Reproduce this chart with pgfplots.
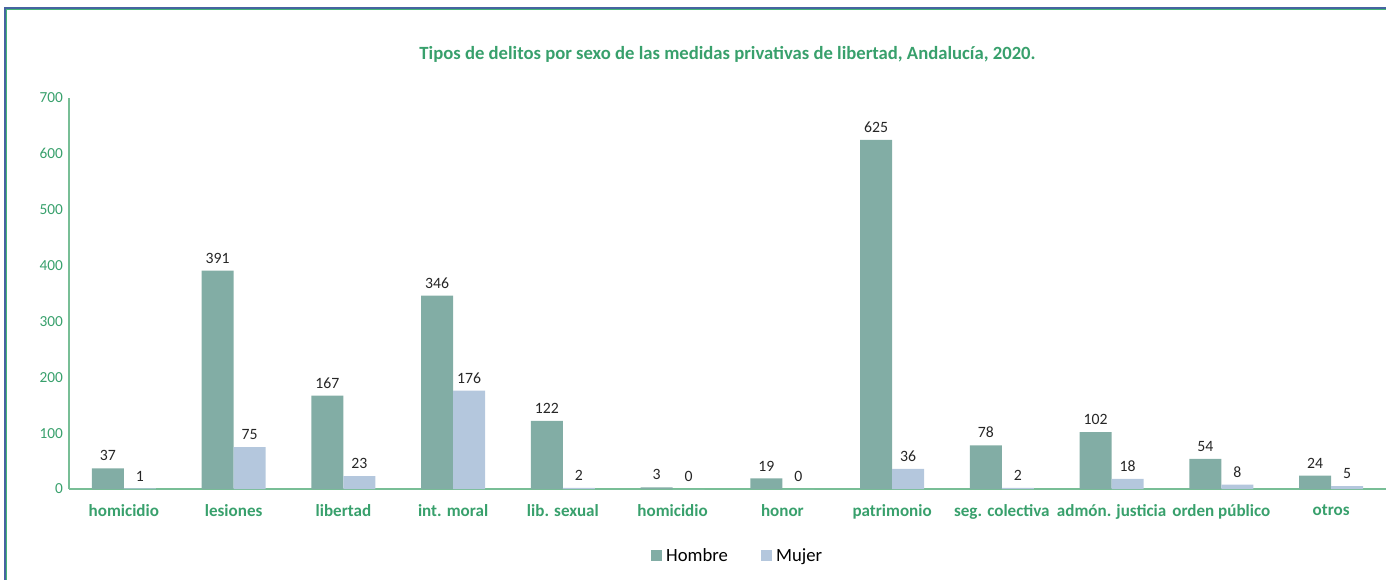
\documentclass[border=0pt]{standalone}
\usepackage{fontspec}
\setmainfont{Carlito}
\usepackage{pgfplots}
\pgfplotsset{compat=1.18}
\definecolor{hombre}{RGB}{130,173,165}
\definecolor{mujer}{RGB}{180,199,221}
\definecolor{titgreen}{RGB}{56,160,108}
\definecolor{axgreen}{RGB}{120,190,150}
\definecolor{frameblue}{RGB}{70,100,160}
\definecolor{framegreen}{RGB}{70,180,120}

\begin{document}
\begin{tikzpicture}
\useasboundingbox (-51.75pt,-67.5pt) rectangle (987.75pt,366.75pt);
% frame round the chart
\draw[frameblue, line width=1pt] (-48pt,-70pt) -- (-48pt,360.75pt) -- (990pt,360.75pt);
\draw[framegreen, line width=1pt] (-46.9pt,-70pt) -- (-46.9pt,359.6pt) -- (990pt,359.6pt);
\begin{axis}[
    at={(0,0)}, anchor=south west,
    scale only axis,
    width=987.75pt, height=293.25pt,
    ybar=0pt, bar width=24pt,
    xmin=-0.5, xmax=11.5, ymin=0, ymax=700,
    xtick={0,...,11},
    xticklabels={homicidio, lesiones, libertad, int. moral, lib. sexual, homicidio, honor, patrimonio, seg. colectiva, admón. justicia, orden público, otros},
    ytick={0,100,...,700},
    axis x line=bottom, axis y line=left,
    axis line style={axgreen, -, line width=0.9pt},
    major tick length=0pt,
    /pgf/number format/assume math mode=true,
    yticklabel style={titgreen, font=\fontsize{11.5}{13}\selectfont, xshift=-1pt},
    xticklabel style={titgreen, font=\bfseries\fontsize{12.8}{15}\selectfont, yshift=-8pt},
    nodes near coords,
    nodes near coords style={font=\fontsize{11.8}{13}\selectfont, text=black!85, yshift=2pt},
    title={Tipos de delitos por sexo de las medidas privativas de libertad, Andalucía, 2020.},
    title style={at={(0.5,1.09)}, anchor=center, text=titgreen, font=\bfseries\fontsize{14}{16}\selectfont},
    legend style={at={(0.508,-0.171)}, anchor=center, draw=none, legend columns=2,
        font=\fontsize{14}{16}\selectfont, column sep=1pt,
        /tikz/every even column/.append style={column sep=23pt}},
    legend image code/.code={\fill[#1] (0pt,-4.1pt) rectangle (8.2pt,4.1pt);},
]
\addplot[fill=hombre, draw=none] coordinates {
    (0,37) (1,391) (2,167) (3,346) (4,122) (5,3)
    (6,19) (7,625) (8,78) (9,102) (10,54) (11,24)};
\addplot[fill=mujer, draw=none] coordinates {
    (0,1) (1,75) (2,23) (3,176) (4,2) (5,0)
    (6,0) (7,36) (8,2) (9,18) (10,8) (11,5)};
\legend{Hombre, Mujer}
\end{axis}
\end{tikzpicture}
\end{document}
